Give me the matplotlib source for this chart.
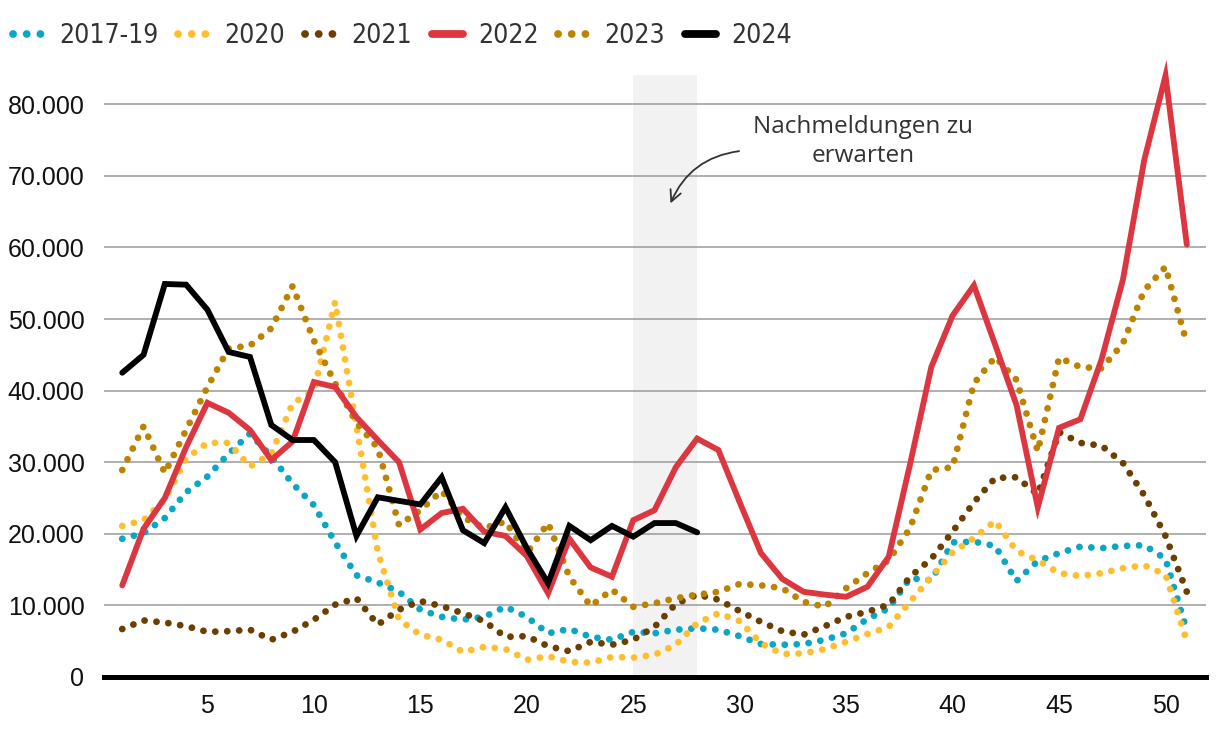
import numpy as np
import matplotlib
matplotlib.use("Agg")
import matplotlib.pyplot as plt
from matplotlib.ticker import FuncFormatter
from matplotlib.font_manager import FontProperties

# Kalenderwochen
weeks = np.arange(1, 52)
weeks_2024 = np.arange(1, 29)

# Fallzahlen je Woche
y_2017_19 = [19300, 20100, 22200, 25800, 28000, 31200, 34000, 30800, 27000, 24000,
             18800, 14200, 13200, 11900, 9400, 8400, 8000, 8400, 9800, 8400,
             6100, 6700, 5600, 5200, 6300, 6100, 6600, 6800, 6600, 5700,
             4600, 4500, 4600, 5200, 6100, 8100, 9600, 13800, 13500, 18800,
             18900, 18300, 13400, 16200, 17300, 18200, 18000, 18300, 18400, 16500,
             6500]
y_2020 = [21100, 21900, 24800, 30500, 32700, 32700, 29400, 31200, 38200, 40000,
          52400, 35000, 17500, 8000, 5900, 5200, 3500, 4200, 3900, 2400,
          2900, 2100, 2000, 2800, 2700, 3100, 4500, 7500, 8900, 7800,
          4700, 3200, 3300, 3900, 4900, 6000, 7000, 10500, 14000, 17400,
          19400, 21800, 17600, 16300, 14500, 14100, 14500, 15200, 15600, 14300,
          5000]
y_2021 = [6700, 7900, 7600, 7100, 6300, 6400, 6600, 5200, 6300, 8000,
          10100, 11000, 7300, 9400, 10600, 9900, 8900, 7800, 5600, 5700,
          4300, 3600, 4900, 4500, 5200, 7000, 10200, 11500, 10800, 9200,
          7700, 6400, 5900, 7100, 8400, 9100, 10100, 14000, 16500, 20300,
          24400, 27800, 27900, 25500, 34200, 32700, 32300, 29900, 25400, 19700,
          11900]
y_2022 = [12800, 20700, 25000, 32100, 38300, 36900, 34500, 30300, 32900, 41200,
          40500, 36300, 33100, 30000, 20600, 22900, 23500, 20300, 19700, 16900,
          11700, 19300, 15300, 14000, 21900, 23300, 29300, 33300, 31700, 24400,
          17300, 13700, 11900, 11500, 11200, 12600, 16800, 29700, 43300, 50500,
          54700, 46400, 38000, 23700, 34800, 36000, 44400, 55500, 72200, 84000,
          60400]
y_2023 = [28900, 35000, 28500, 34500, 40500, 45900, 46300, 48700, 54600, 47000,
          41000, 35500, 32000, 21200, 23300, 26000, 22300, 20800, 21700, 17300,
          21500, 14000, 9900, 12200, 9800, 10300, 11000, 11500, 11900, 13000,
          12800, 12400, 10500, 9800, 12400, 14500, 16300, 20800, 28900, 29300,
          41000, 44700, 41500, 31500, 44600, 43300, 43100, 46600, 54000, 57300,
          46600]
y_2024 = [42500, 45000, 54900, 54800, 51300, 45400, 44700, 35200, 33100, 33100,
          30000, 19700, 25100, 24600, 24100, 27900, 20500, 18700, 23700, 18000,
          13100, 21100, 19100, 21100, 19600, 21500, 21500, 20200]

labels = ["2017-19", "2020", "2021", "2022", "2023", "2024"]
colors = ["#0AA6C6", "#FEBE30", "#6B3F00", "#DC3741", "#BB8300", "#000000"]

fig = plt.figure(figsize=(12.2, 7.36), dpi=100)
ax = fig.add_axes([0.0852, 0.0802, 0.9033, 0.818])

dotted = (0, (0.01, 1.75))
series = [(weeks, y_2017_19), (weeks, y_2020), (weeks, y_2021),
          (weeks, y_2022), (weeks, y_2023), (weeks_2024, y_2024)]
handles = []
for (x, y), lab, col in zip(series, labels, colors):
    if lab in ("2022", "2024"):
        h, = ax.plot(x, y, color=col, lw=4.2, solid_joinstyle="miter",
                     solid_capstyle="round", label=lab, clip_on=False, zorder=4)
    else:
        h, = ax.plot(x, y, color=col, lw=4.9, linestyle=dotted,
                     dash_capstyle="round", label=lab, zorder=3)
    handles.append(h)

# Bereich mit Nachmeldungen
ax.axvspan(25, 28, color="#F2F2F2", zorder=0, lw=0)

ax.set_xlim(0.14, 51.9)
ax.set_ylim(0, 84100)
ax.set_xticks([5, 10, 15, 20, 25, 30, 35, 40, 45, 50])
ax.set_yticks(np.arange(0, 80001, 10000))
ax.yaxis.set_major_formatter(FuncFormatter(lambda v, p: f"{int(v):,}".replace(",", ".")))
ax.grid(axis="y", color="#9A9A9A", lw=1.1, zorder=1)
ax.tick_params(length=0, labelsize=18, colors="#111111", labelfontfamily="Liberation Sans")
ax.tick_params(axis="y", pad=14)
ax.tick_params(axis="x", pad=12)
for s in ["top", "right", "left"]:
    ax.spines[s].set_visible(False)
ax.spines["bottom"].set_linewidth(3.6)
ax.spines["bottom"].set_zorder(5)

ax.text(35.8, 74800, "Nachmeldungen zu\nerwarten", ha="center", va="center",
        fontsize=17.5, color="#333333", family="Open Sans", linespacing=1.25)
ax.annotate("", xy=(26.7, 65800), xytext=(30.1, 73500),
            arrowprops=dict(arrowstyle="->", color="#333333", lw=1.3,
                            connectionstyle="arc3,rad=0.3", mutation_scale=20))

leg_font = FontProperties(family="DejaVu Sans", stretch="condensed", size=19)
leg = fig.legend(handles=handles, loc="center left", bbox_to_anchor=(0.0107, 0.951),
                 ncol=6, frameon=False, handlelength=1.2, handletextpad=0.55,
                 columnspacing=0.75, borderpad=0, borderaxespad=0,
                 prop=leg_font, labelcolor="#333333")
for lh in leg.legend_handles:
    lh.set_linewidth(5.6)

fig.savefig("out.png", dpi=100)
